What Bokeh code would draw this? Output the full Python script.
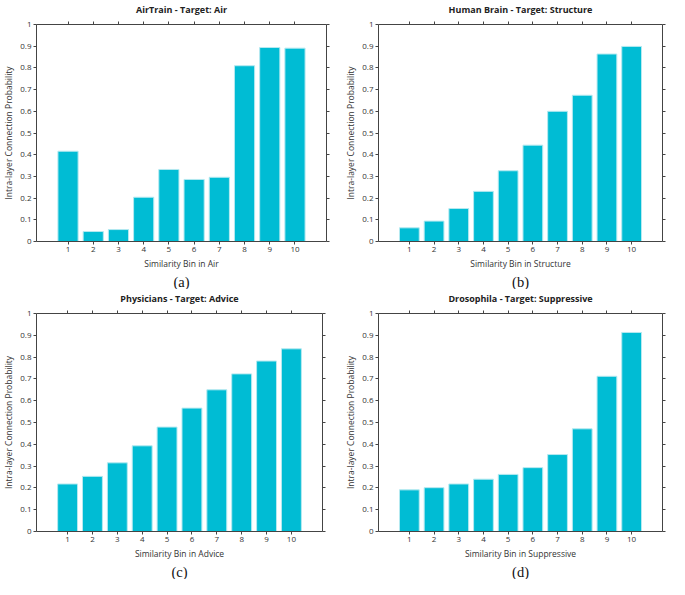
from bokeh.plotting import figure
from bokeh.models import Range1d, FixedTicker, LinearAxis, Title, CustomLabelingPolicy
from bokeh.layouts import column, row
from bokeh.embed import file_html
from bokeh.resources import INLINE

bins = [1, 2, 3, 4, 5, 6, 7, 8, 9, 10]
air = [0.416, 0.046, 0.055, 0.204, 0.332, 0.286, 0.296, 0.810, 0.894, 0.891]
structure = [0.063, 0.094, 0.152, 0.231, 0.326, 0.444, 0.600, 0.674, 0.864, 0.899]
advice = [0.218, 0.253, 0.315, 0.393, 0.479, 0.566, 0.650, 0.723, 0.782, 0.838]
suppressive = [0.191, 0.201, 0.218, 0.240, 0.262, 0.293, 0.353, 0.471, 0.712, 0.913]

titles = ["AirTrain - Target: Air", "Human Brain - Target: Structure",
          "Physicians - Target: Advice", "Drosophila - Target: Suppressive"]
xlabels = ["Similarity Bin in Air", "Similarity Bin in Structure",
           "Similarity Bin in Advice", "Similarity Bin in Suppressive"]
captions = ["(a)", "(b)", "(c)", "(d)"]
ylabel = "Intra-layer Connection Probability"
y_ticks = [0, 0.1, 0.2, 0.3, 0.4, 0.5, 0.6, 0.7, 0.8, 0.9, 1]
y_tick_labels = ["0", "0.1", "0.2", "0.3", "0.4", "0.5", "0.6", "0.7", "0.8", "0.9", "1"]

BAR = "#00BCD4"
AX = "#444444"
FONT = "Open Sans"

NO_LABELS = "const a = Array.from(indices); for (const i of a) { indices.unset(i) }; return indices"


def style_axis(ax, show_labels):
    ax.axis_line_color = AX
    ax.major_tick_line_color = AX
    ax.major_tick_out = 3
    ax.major_tick_in = 0
    ax.minor_tick_line_color = None
    ax.major_label_text_font = FONT
    ax.major_label_text_color = "#333333"
    if show_labels:
        ax.major_label_text_font_size = "8px"
        ax.major_label_standoff = 2
        ax.axis_label_standoff = 3
    else:
        ax.major_label_text_font_size = "1px"
        ax.major_label_standoff = 0
        ax.axis_label_standoff = 0
        ax.major_label_policy = CustomLabelingPolicy(code=NO_LABELS)
    ax.axis_label_text_font = FONT
    ax.axis_label_text_font_size = "8.5px"
    ax.axis_label_text_font_style = "normal"
    ax.axis_label_text_color = "#333333"


def panel(vals, title, xlabel, caption, w, h, ml, mr, mt, mb):
    p = figure(width=w, height=h, output_backend="svg", toolbar_location=None,
               x_range=Range1d(-0.25, 11.25), y_range=Range1d(0, 1),
               min_border_left=ml, min_border_right=mr,
               min_border_top=mt, min_border_bottom=mb)
    p.vbar(x=bins, top=vals, width=0.8, fill_color=BAR, line_color="#b5e9f0", line_width=1)
    p.xgrid.grid_line_color = None
    p.ygrid.grid_line_color = None
    p.outline_line_color = None
    p.xaxis.ticker = FixedTicker(ticks=bins)
    p.yaxis.ticker = FixedTicker(ticks=y_ticks)
    p.yaxis.major_label_overrides = dict(zip(y_ticks, y_tick_labels))
    p.xaxis.axis_label = xlabel
    p.yaxis.axis_label = ylabel
    style_axis(p.xaxis[0], True)
    style_axis(p.yaxis[0], True)
    top = LinearAxis(ticker=FixedTicker(ticks=bins))
    right = LinearAxis(ticker=FixedTicker(ticks=y_ticks))
    style_axis(top, False)
    style_axis(right, False)
    p.add_layout(top, "above")
    p.add_layout(right, "right")
    p.title.text = title
    p.title.align = "center"
    p.title.text_font = FONT
    p.title.text_font_size = "9px"
    p.title.text_font_style = "bold"
    p.title.text_color = "#222222"
    p.title.standoff = 1
    p.add_layout(Title(text=caption, align="center", text_font="Liberation Serif",
                       text_font_size="14.5px", text_font_style="normal",
                       text_color="#111111", standoff=0), "below")
    return p


pa = panel(air, titles[0], xlabels[0], captions[0], 334, 289, 22, 8, 10, 40)
pb = panel(structure, titles[1], xlabels[1], captions[1], 335, 289, 44, 0, 10, 40)
pc = panel(advice, titles[2], xlabels[2], captions[2], 334, 290, 22, 12, 19, 40)
pd = panel(suppressive, titles[3], xlabels[3], captions[3], 335, 290, 44, 0, 19, 40)

layout = column(row(pa, pb), row(pc, pd))
open("out.html", "w").write(file_html(layout, INLINE))
